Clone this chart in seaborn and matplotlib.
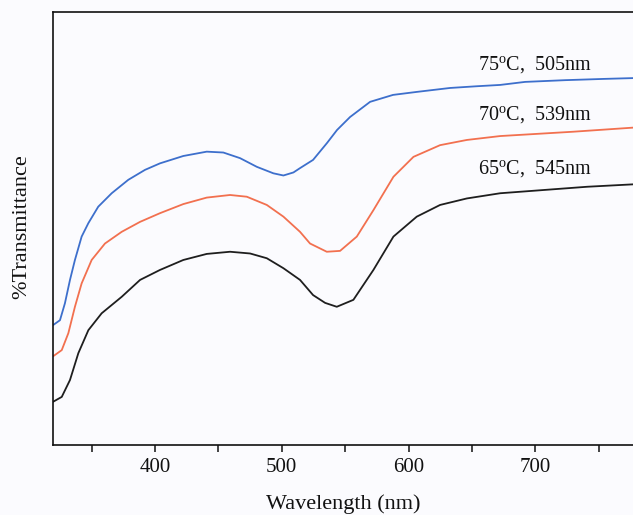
import numpy as np
import pandas as pd
import matplotlib
matplotlib.use("Agg")
import matplotlib.pyplot as plt
import seaborn as sns

# ---- data (wavelength nm, arbitrary %T units) ----
x_75 = [319.7, 325.0, 328.9, 332.9, 336.8, 342.1, 347.4, 355.2, 365.8, 378.9, 392.1,
        403.9, 422.3, 440.8, 453.9, 467.1, 480.3, 493.4, 501.3, 509.2, 514.4, 524.7,
        535.7, 543.6, 553.9, 569.7, 587.8, 606.8, 632.8, 654.1, 672.3, 692.0, 723.6,
        755.2, 780.0]
y_75 = [27.7, 28.8, 32.7, 38.1, 42.7, 48.1, 51.2, 55.0, 58.1, 61.2, 63.5,
        65.0, 66.7, 67.7, 67.5, 66.2, 64.2, 62.7, 62.2, 62.9, 63.9, 65.8,
        69.7, 72.7, 75.7, 79.2, 80.8, 81.5, 82.4, 82.8, 83.1, 83.8, 84.2,
        84.5, 84.7]

x_70 = [319.7, 326.4, 331.6, 336.8, 342.1, 350.0, 360.5, 373.7, 388.2, 403.9, 422.3,
        440.8, 459.2, 472.4, 488.2, 501.3, 514.4, 522.3, 535.5, 546.0, 559.2, 572.3,
        588.1, 603.9, 624.9, 646.0, 672.3, 729.9, 780.0]
y_70 = [20.5, 21.9, 25.8, 31.9, 37.3, 42.7, 46.5, 49.2, 51.5, 53.5, 55.6,
        57.1, 57.7, 57.3, 55.4, 52.7, 49.2, 46.5, 44.6, 44.8, 48.1, 54.2,
        61.9, 66.5, 69.2, 70.4, 71.3, 72.3, 73.3]

x_65 = [319.7, 326.4, 332.9, 339.5, 347.4, 357.9, 373.7, 388.2, 403.9, 422.3, 440.8,
        459.2, 475.0, 488.2, 501.3, 514.4, 524.7, 534.2, 543.4, 556.5, 572.3, 588.1,
        606.5, 624.9, 646.0, 672.3, 741.0, 780.0]
y_65 = [10.0, 11.1, 15.0, 21.2, 26.5, 30.4, 34.2, 38.1, 40.4, 42.7, 44.1,
        44.6, 44.2, 43.1, 40.8, 38.1, 34.6, 32.8, 31.9, 33.5, 40.4, 48.1,
        52.7, 55.4, 56.9, 58.1, 59.6, 60.2]

labels = ["75$^{\\mathrm{o}}$C,  505nm", "70$^{\\mathrm{o}}$C,  539nm", "65$^{\\mathrm{o}}$C,  545nm"]
label_y = [87.7, 76.2, 63.9]
colors = ["#3d6fcc", "#f2704f", "#1e1e1e"]
x_major = [400, 500, 600, 700]
x_minor = [350, 450, 550, 650, 750]

sns.set_style("ticks")
plt.rcParams["font.family"] = ["Liberation Serif", "DejaVu Serif"]
plt.rcParams["mathtext.fontset"] = "custom"
plt.rcParams["mathtext.rm"] = "Liberation Serif"
plt.rcParams["mathtext.it"] = "Liberation Serif:italic"

bg = "#fbfbfe"
fig = plt.figure(figsize=(6.33, 5.15), dpi=100, facecolor=bg)
ax = fig.add_axes([53 / 633, 1 - 445 / 515, 609 / 633, (445 - 11.7) / 515])
ax.set_facecolor(bg)

for xs, ys, c in zip([x_75, x_70, x_65], [y_75, y_70, y_65], colors):
    df = pd.DataFrame({"wl": xs, "t": ys})
    sns.lineplot(data=df, x="wl", y="t", ax=ax, color=c, linewidth=1.3)

for lab, ly in zip(labels, label_y):
    ax.text(655, ly, lab, fontsize=14.5, ha="left", va="center", color="#111111")

ax.set_xlim(319.5, 800)
ax.set_ylim(0, 100)
ax.set_yticks([])
ax.set_xticks(x_major)
ax.set_xticks(x_minor, minor=True)
ax.tick_params(axis="x", which="both", direction="out", length=5, width=1.1,
               labelsize=15, pad=4, colors="#111111")
for s in ax.spines.values():
    s.set_visible(True)
    s.set_linewidth(1.2)
    s.set_color("#111111")

ax.set_xlabel("Wavelength (nm)", fontsize=16, color="#111111", va="top")
ax.xaxis.set_label_coords(0.476, -0.113)
ax.set_ylabel("%Transmittance", fontsize=16, color="#111111")
ax.yaxis.set_label_coords(-0.035, 0.503)

fig.savefig("out.png", dpi=100, facecolor=bg)
